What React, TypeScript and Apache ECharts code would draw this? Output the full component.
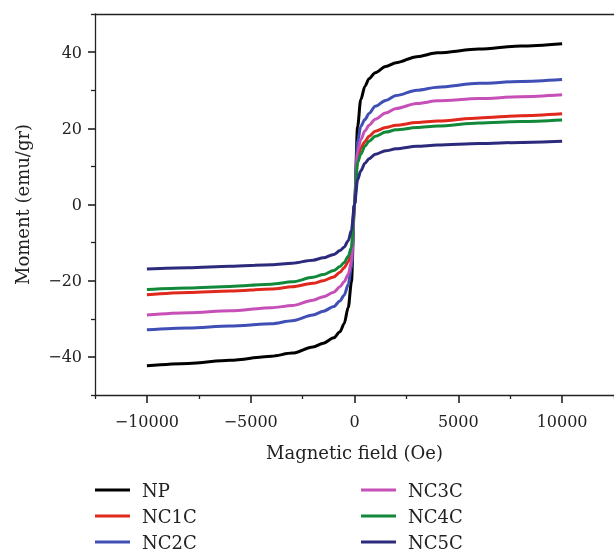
import React, { useEffect, useRef } from "react";
import * as echarts from "echarts";

const fieldOe = [-10000, -8000, -6000, -4000, -3000, -2000, -1500, -1000, -700, -500, -300, -150, 0, 150, 300, 500, 700, 1000, 1500, 2000, 3000, 4000, 6000, 8000, 10000];

const NP = [-42.3, -41.7, -40.9, -39.8, -39.0, -37.4, -36.4, -35.0, -33.4, -31.3, -27.0, -20.5, 0, 20.5, 27.5, 31.0, 33.0, 34.6, 36.2, 37.2, 38.8, 39.8, 40.8, 41.6, 42.2];
const NC1C = [-23.7, -23.1, -22.7, -22.2, -21.6, -20.7, -20.0, -19.0, -17.8, -16.6, -15.0, -12.8, 0, 12.5, 14.8, 16.5, 17.9, 19.2, 20.2, 20.8, 21.5, 21.9, 22.7, 23.3, 23.8];
const NC2C = [-32.9, -32.4, -31.9, -31.3, -30.5, -29.0, -28.0, -26.8, -25.3, -23.8, -21.0, -16.5, 0, 16.5, 20.5, 22.3, 23.9, 25.8, 27.3, 28.6, 30.0, 30.8, 31.8, 32.3, 32.8];
const NC3C = [-29.0, -28.4, -27.9, -27.1, -26.5, -25.1, -24.2, -23.0, -21.6, -20.3, -18.3, -15.0, 0, 14.0, 17.0, 19.3, 20.8, 22.4, 24.0, 25.2, 26.5, 27.2, 27.8, 28.3, 28.8];
const NC4C = [-22.3, -21.9, -21.5, -20.9, -20.3, -19.1, -18.4, -17.3, -16.3, -15.2, -13.6, -11.3, 0, 11.0, 13.2, 15.3, 16.6, 17.9, 19.0, 19.6, 20.2, 20.6, 21.4, 21.8, 22.2];
const NC5C = [-16.9, -16.6, -16.2, -15.8, -15.4, -14.6, -14.0, -13.1, -12.1, -11.2, -9.5, -6.8, 0, 6.5, 8.8, 10.8, 12.0, 13.2, 14.1, 14.6, 15.3, 15.6, 16.0, 16.3, 16.6];

const seriesNames = ["NP", "NC1C", "NC2C", "NC3C", "NC4C", "NC5C"];
const seriesValues = [NP, NC1C, NC2C, NC3C, NC4C, NC5C];
const seriesColors = ["#000000", "#e0281c", "#3f4fb5", "#c64fb8", "#12883a", "#2b2a7c"];

const xMajorTicks = [-10000, -5000, 0, 5000, 10000];
const xMinorTicks = [-12500, -7500, -2500, 2500, 7500, 12500];
const yMajorTicks = [-40, -20, 0, 20, 40];
const yMinorTicks = [-50, -30, -10, 10, 30, 50];

const FONT = "'DejaVu Serif', 'Liberation Serif', serif";

export default function App() {
  const ref = useRef<HTMLDivElement>(null);
  useEffect(() => {
    if (!ref.current) return;
    const chart = echarts.init(ref.current, undefined, { renderer: "svg" });
    const axisColor = "#222";
    const fmt = (v: number) => (v < 0 ? "\u2212" + Math.abs(v) : String(v));
    const legendCommon = {
      orient: "vertical",
      top: 481,
      height: 72,
      padding: 0,
      icon: "rect",
      itemWidth: 35,
      itemHeight: 3,
      itemGap: 8,
      textStyle: { fontFamily: FONT, fontSize: 18, color: "#222", lineHeight: 18, padding: [0, 0, 0, 7] },
    };
    chart.setOption({
      animation: false,
      grid: { left: 95, top: 14, right: -2, bottom: 157, show: false },
      xAxis: [
        {
          type: "value",
          min: -12500,
          max: 12500,
          position: "bottom",
          name: "Magnetic field (Oe)",
          nameLocation: "middle",
          nameGap: 48,
          nameTextStyle: { fontFamily: FONT, fontSize: 18, color: "#222" },
          axisLine: { show: true, onZero: false, lineStyle: { color: axisColor, width: 1.3 } },
          axisTick: { show: true, inside: false, length: 8, customValues: xMajorTicks, lineStyle: { color: axisColor, width: 1.6 } },
          axisLabel: { show: true, customValues: xMajorTicks, formatter: fmt, fontFamily: FONT, fontSize: 16, color: "#222", margin: 18 },
          splitLine: { show: false },
        },
        {
          type: "value",
          min: -12500,
          max: 12500,
          position: "bottom",
          axisLine: { show: false, onZero: false },
          axisTick: { show: true, length: 4, customValues: xMinorTicks, lineStyle: { color: axisColor, width: 1.3 } },
          axisLabel: { show: false },
          splitLine: { show: false },
        },
        {
          type: "value",
          min: -12500,
          max: 12500,
          position: "top",
          axisLine: { show: true, onZero: false, lineStyle: { color: axisColor, width: 1.3 } },
          axisTick: { show: false },
          axisLabel: { show: false },
          splitLine: { show: false },
        },
      ],
      yAxis: [
        {
          type: "value",
          min: -50,
          max: 50,
          position: "left",
          name: "Moment (emu/gr)",
          nameLocation: "middle",
          nameGap: 64,
          nameTextStyle: { fontFamily: FONT, fontSize: 18, color: "#222" },
          axisLine: { show: true, onZero: false, lineStyle: { color: axisColor, width: 1.3 } },
          axisTick: { show: true, length: 7, customValues: yMajorTicks, lineStyle: { color: axisColor, width: 1.6 } },
          axisLabel: { show: true, customValues: yMajorTicks, formatter: fmt, fontFamily: FONT, fontSize: 16, color: "#222", margin: 13 },
          splitLine: { show: false },
        },
        {
          type: "value",
          min: -50,
          max: 50,
          position: "left",
          axisLine: { show: false, onZero: false },
          axisTick: { show: true, length: 4, customValues: yMinorTicks, lineStyle: { color: axisColor, width: 1.3 } },
          axisLabel: { show: false },
          splitLine: { show: false },
        },
      ],
      legend: [
        { ...legendCommon, data: seriesNames.slice(0, 3), left: 95 },
        { ...legendCommon, data: seriesNames.slice(3, 6), left: 361 },
      ],
      series: seriesNames.map((name, i) => ({
        name,
        type: "line",
        xAxisIndex: 0,
        yAxisIndex: 0,
        data: fieldOe.map((x, j) => [x, seriesValues[i][j]]),
        showSymbol: false,
        symbol: "none",
        smooth: 0.3,
        smoothMonotone: "x",
        color: seriesColors[i],
        lineStyle: { color: seriesColors[i], width: 3 },
      })),
    });
    return () => chart.dispose();
  }, []);
  return <div ref={ref} style={{ position: "fixed", left: 0, top: 0, width: 614, height: 552 }} />;
}
